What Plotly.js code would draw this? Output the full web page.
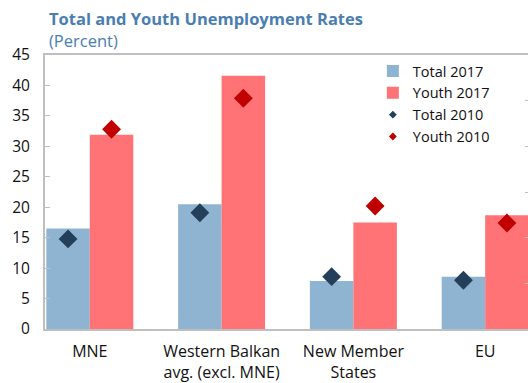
<!DOCTYPE html>
<html>
<head>
<meta charset="utf-8">
<script src="https://cdn.plot.ly/plotly-3.0.1.min.js"></script>
<style>
html,body{margin:0;padding:0;overflow:hidden;background:#fff;}
#chart{width:532px;height:383px;}
</style>
</head>
<body>
<div id="chart"></div>
<script>
var categories = ["MNE", "Western Balkan<br>avg. (excl. MNE)", "New Member<br>States", "EU"];
var total2017 = [16.5, 20.5, 7.9, 8.6];
var youth2017 = [31.9, 41.6, 17.5, 18.7];
var total2010 = [14.8, 19.1, 8.6, 8.0];
var youth2010 = [32.8, 37.9, 20.2, 17.4];
var yTicks = [0, 5, 10, 15, 20, 25, 30, 35, 40, 45];
var seriesNames = ["Total 2017", "Youth 2017", "Total 2010", "Youth 2010"];

var FONT = "Open Sans, sans-serif";
var GRID = "#BFBFBF";
var C_T17 = "#8EB4D2", C_Y17 = "#FF7276", C_T10 = "#243F5A", C_Y10 = "#C00000";

var traces = [
  {type: "bar", name: seriesNames[0], x: categories, y: total2017,
   marker: {color: C_T17}, offsetgroup: "t", hoverinfo: "skip", legendrank: 1},
  {type: "bar", name: seriesNames[1], x: categories, y: youth2017,
   marker: {color: C_Y17}, offsetgroup: "y", hoverinfo: "skip", legendrank: 2},
  {type: "scatter", mode: "markers", name: seriesNames[2], x: categories, y: total2010,
   marker: {symbol: "diamond", size: 14.5, color: C_T10}, offsetgroup: "t",
   hoverinfo: "skip", showlegend: false},
  {type: "scatter", mode: "markers", name: seriesNames[3], x: categories, y: youth2010,
   marker: {symbol: "diamond", size: 14.5, color: C_Y10}, offsetgroup: "y",
   hoverinfo: "skip", showlegend: false},
  // legend entries for the 2010 markers (smaller symbol, as in the reference legend)
  {type: "scatter", mode: "markers", name: seriesNames[2], x: [null], y: [null],
   marker: {symbol: "diamond", size: 6, color: C_T10}, hoverinfo: "skip", legendrank: 3},
  {type: "scatter", mode: "markers", name: seriesNames[3], x: [null], y: [null],
   marker: {symbol: "diamond", size: 6, color: C_Y10}, hoverinfo: "skip", legendrank: 4},
  // secondary (right) axis carrier
  {type: "scatter", mode: "markers", x: categories, y: [null, null, null, null],
   yaxis: "y2", showlegend: false, hoverinfo: "skip"}
];

var layout = {
  width: 532, height: 383,
  margin: {l: 45, r: 2, t: 55, b: 54, pad: 0},
  paper_bgcolor: "#fff", plot_bgcolor: "#fff",
  font: {family: FONT, size: 15, color: "#111"},
  barmode: "group", bargap: 0.34, bargroupgap: 0,
  scattermode: "group", scattergap: 0.34,
  showlegend: true,
  legend: {x: 0.676, y: 1.0, xanchor: "left", yanchor: "top",
           bgcolor: "rgba(0,0,0,0)", font: {family: FONT, size: 14.5, color: "#111"},
           tracegroupgap: 0, traceorder: "normal"},
  xaxis: {type: "category", range: [-0.34, 3.34], showgrid: false,
          showline: true, linecolor: GRID, linewidth: 2, mirror: true,
          ticks: "", ticklabelstandoff: 7,
          tickfont: {family: FONT, size: 16, color: "#111"}, fixedrange: true},
  yaxis: {range: [0, 45], tickvals: yTicks, showgrid: false, zeroline: false,
          showline: true, linecolor: GRID, linewidth: 2,
          ticks: "inside", ticklen: 5, tickcolor: GRID, tickwidth: 1,
          ticklabelstandoff: 10,
          tickfont: {family: FONT, size: 15.5, color: "#111"}, fixedrange: true},
  yaxis2: {overlaying: "y", side: "right", range: [0, 6], dtick: 1,
           showgrid: false, zeroline: false, showline: false,
           ticks: "inside", ticklen: 5, tickcolor: GRID, tickwidth: 1,
           showticklabels: false, fixedrange: true},
  annotations: [
    {text: "<b>Total and Youth Unemployment Rates</b>", xref: "paper", yref: "paper",
     x: 0, y: 1, xanchor: "left", yanchor: "middle", xshift: 2, yshift: 37, showarrow: false,
     font: {family: FONT, size: 16.5, color: "#4A7EB0"}},
    {text: "(Percent)", xref: "paper", yref: "paper",
     x: 0, y: 1, xanchor: "left", yanchor: "middle", xshift: 2, yshift: 15, showarrow: false,
     font: {family: FONT, size: 16.5, color: "#4A7EB0"}}
  ]
};

Plotly.newPlot("chart", traces, layout, {displayModeBar: false, staticPlot: true});
</script>
</body>
</html>
